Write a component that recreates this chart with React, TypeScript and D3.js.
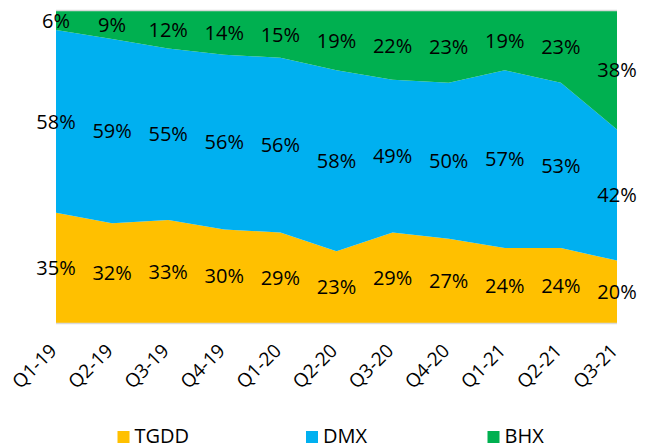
import React from "react";
import * as d3 from "d3";

const quarters = ["Q1-19", "Q2-19", "Q3-19", "Q4-19", "Q1-20", "Q2-20", "Q3-20", "Q4-20", "Q1-21", "Q2-21", "Q3-21"];
const tgdd = [35, 32, 33, 30, 29, 23, 29, 27, 24, 24, 20];
const dmx = [58, 59, 55, 56, 56, 58, 49, 50, 57, 53, 42];
const bhx = [6, 9, 12, 14, 15, 19, 22, 23, 19, 23, 38];
const seriesNames = ["TGDD", "DMX", "BHX"];
const colors = ["#FFC000", "#00B0F0", "#00B050"];

export default function App() {
  const W = 652, H = 448;
  const left = 56, right = 617, top = 11, bottom = 323;
  const rows = quarters.map((q, i) => ({ q, TGDD: tgdd[i], DMX: dmx[i], BHX: bhx[i] }));
  const stack = d3.stack<any>().keys(seriesNames).offset(d3.stackOffsetExpand);
  const layers = stack(rows);
  const x = d3.scalePoint<string>().domain(quarters).range([left, right]);
  const y = d3.scaleLinear().domain([0, 1]).range([bottom, top]);
  const area = d3.area<any>()
    .x((d) => x(d.data.q) as number)
    .y0((d) => y(d[0]))
    .y1((d) => y(d[1]))
    .curve(d3.curveLinear);
  const font = "'Open Sans', sans-serif";
  const legendX = [117.5, 306, 487.5];
  return (
    <svg width={W} height={H} style={{ position: "absolute", left: 0, top: 0 }} fontFamily={font}>
      {layers.map((layer, i) => (
        <path key={i} d={area(layer) as string} fill={colors[i]} />
      ))}
      <line x1={left} x2={right} y1={top - 0.5} y2={top - 0.5} stroke="#D9D9D9" strokeWidth={1.5} />
      <line x1={left} x2={right} y1={bottom + 0.5} y2={bottom + 0.5} stroke="#D9D9D9" strokeWidth={1.5} />
      {layers.map((layer, i) =>
        layer.map((d: any, j: number) => (
          <text
            key={`${i}-${j}`}
            x={x(d.data.q) as number}
            y={y((d[0] + d[1]) / 2)}
            dy="0.36em"
            textAnchor="middle"
            fontSize={20}
            fill="#000"
          >
            {`${(d.data as any)[seriesNames[i]]}%`}
          </text>
        ))
      )}
      {quarters.map((q) => (
        <text
          key={q}
          transform={`translate(${(x(q) as number) + 2},${352}) rotate(-45)`}
          textAnchor="end"
          fontSize={19}
          fill="#000"
        >
          {q}
        </text>
      ))}
      {seriesNames.map((s, i) => (
        <g key={s}>
          <rect x={legendX[i]} y={431} width={12} height={12} fill={colors[i]} />
          <text x={legendX[i] + 17} y={443} fontSize={20} fill="#000">{s}</text>
        </g>
      ))}
    </svg>
  );
}
